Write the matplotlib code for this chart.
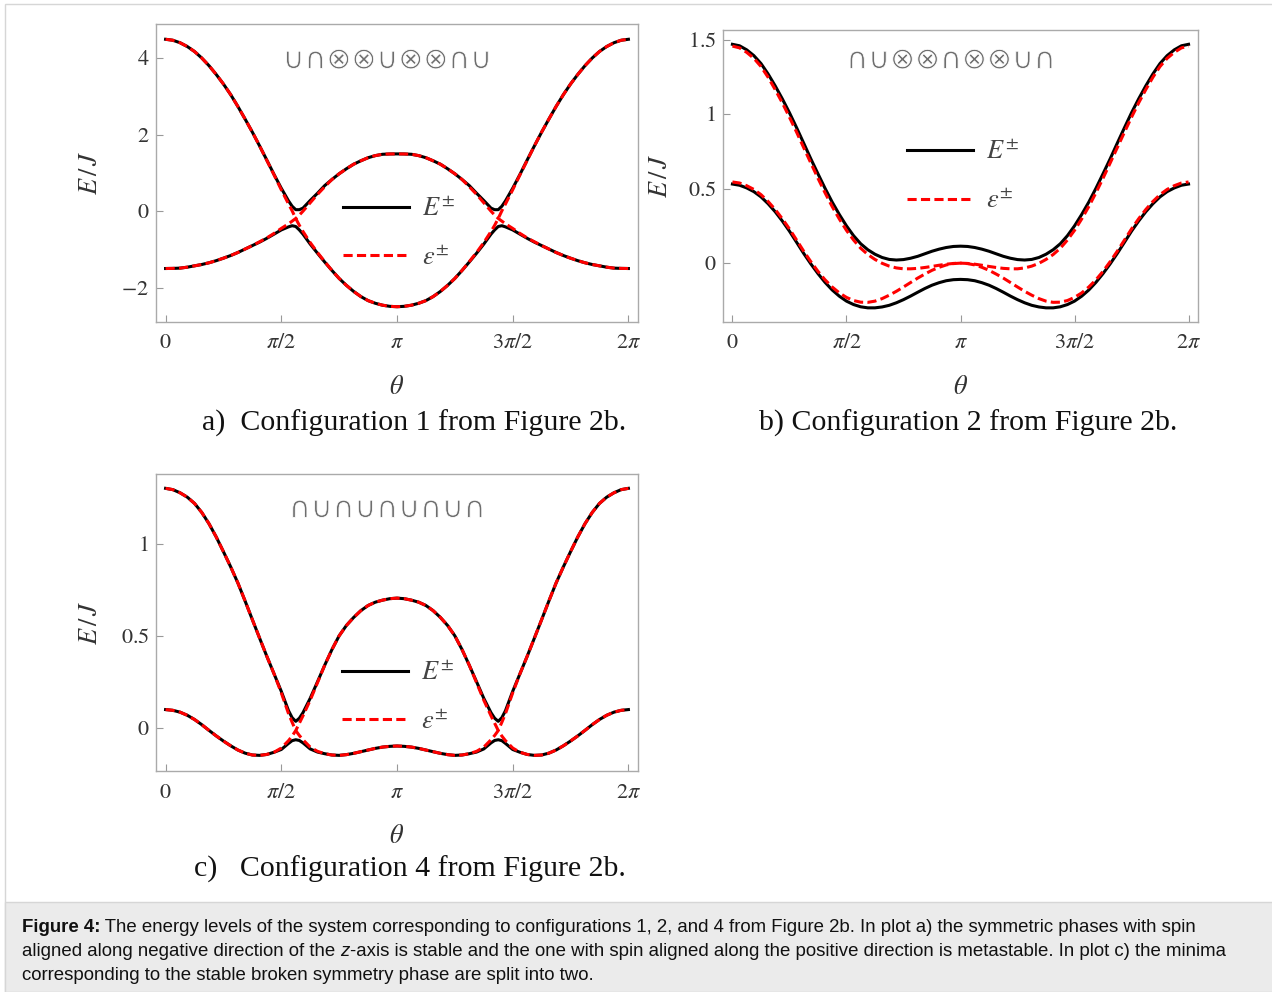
import numpy as np
import matplotlib
matplotlib.use('Agg')
import matplotlib.pyplot as plt
import matplotlib.patheffects as pe
from matplotlib.lines import Line2D
from matplotlib.patches import Rectangle
from matplotlib.transforms import IdentityTransform

plt.rcParams['mathtext.fontset'] = 'stix'
plt.rcParams['font.family'] = ['Liberation Serif', 'DejaVu Sans']

# theta samples (rad), pi/32 steps; a and c get two extra points at each avoided crossing
theta_ac = ([0, 0.098, 0.196, 0.295, 0.393, 0.491, 0.589, 0.687, 0.785, 0.884, 0.982, 1.080, 1.178,
             1.276, 1.374, 1.473, 1.571, 1.669, 1.718, 1.767, 1.816, 1.865, 1.963, 2.062, 2.160, 2.258,
             2.356, 2.454, 2.553, 2.651, 2.749, 2.847, 2.945, 3.043, 3.142]
            + [3.240, 3.338, 3.436, 3.534, 3.632, 3.731, 3.829, 3.927, 4.025, 4.123, 4.222, 4.320, 4.418,
               4.467, 4.516, 4.565, 4.614, 4.712, 4.810, 4.909, 5.007, 5.105, 5.203, 5.301, 5.400, 5.498,
               5.596, 5.694, 5.792, 5.890, 5.988, 6.087, 6.185, 6.283])
theta_b = ([0, 0.098, 0.196, 0.295, 0.393, 0.491, 0.589, 0.687, 0.785, 0.884, 0.982, 1.080, 1.178,
            1.276, 1.374, 1.473, 1.571, 1.669, 1.767, 1.865, 1.963, 2.062, 2.160, 2.258, 2.356, 2.454,
            2.553, 2.651, 2.749, 2.847, 2.945, 3.043, 3.142]
           + [3.240, 3.338, 3.436, 3.534, 3.632, 3.731, 3.829, 3.927, 4.025, 4.123, 4.222, 4.320, 4.418,
              4.516, 4.614, 4.712, 4.810, 4.909, 5.007, 5.105, 5.203, 5.301, 5.400, 5.498, 5.596, 5.694,
              5.792, 5.890, 5.988, 6.087, 6.185, 6.283])

# panel a) configuration 1
Ep_a = ([4.50, 4.475, 4.41, 4.31, 4.18, 4.01, 3.81, 3.58, 3.33, 3.05, 2.74, 2.41, 2.07, 1.71, 1.34, 0.96,
         0.60, 0.27, 0.13, 0.04, 0.04, 0.08, 0.28, 0.47, 0.67, 0.83, 0.98, 1.11, 1.23, 1.32, 1.40, 1.455,
         1.49, 1.498, 1.50]
        + [1.498, 1.49, 1.455, 1.40, 1.32, 1.23, 1.11, 0.98, 0.83, 0.67, 0.47, 0.28, 0.08, 0.04, 0.04,
           0.13, 0.27, 0.60, 0.96, 1.34, 1.71, 2.07, 2.41, 2.74, 3.05, 3.33, 3.58, 3.81, 4.01, 4.18, 4.31,
           4.41, 4.475, 4.50])
Em_a = ([-1.50, -1.497, -1.49, -1.465, -1.43, -1.395, -1.35, -1.295, -1.23, -1.16, -1.08, -0.99, -0.90,
         -0.81, -0.71, -0.60, -0.49, -0.41, -0.38, -0.40, -0.49, -0.60, -0.86, -1.10, -1.33, -1.55, -1.76,
         -1.94, -2.10, -2.235, -2.34, -2.41, -2.46, -2.49, -2.50]
        + [-2.49, -2.46, -2.41, -2.34, -2.235, -2.10, -1.94, -1.76, -1.55, -1.33, -1.10, -0.86, -0.60,
           -0.49, -0.40, -0.38, -0.41, -0.49, -0.60, -0.71, -0.81, -0.90, -0.99, -1.08, -1.16, -1.23,
           -1.295, -1.35, -1.395, -1.43, -1.465, -1.49, -1.497, -1.50])
eps1_a = ([4.50, 4.475, 4.41, 4.31, 4.18, 4.01, 3.81, 3.58, 3.33, 3.05, 2.74, 2.41, 2.07, 1.71, 1.33,
           0.95, 0.56, 0.19, 0.01, -0.19, -0.37, -0.53, -0.82, -1.08, -1.32, -1.55, -1.76, -1.94, -2.10,
           -2.235, -2.34, -2.41, -2.46, -2.49, -2.50]
          + [-2.49, -2.46, -2.41, -2.34, -2.235, -2.10, -1.94, -1.76, -1.55, -1.32, -1.08, -0.82, -0.53,
             -0.37, -0.19, 0.01, 0.19, 0.56, 0.95, 1.33, 1.71, 2.07, 2.41, 2.74, 3.05, 3.33, 3.58, 3.81,
             4.01, 4.18, 4.31, 4.41, 4.475, 4.50])
eps2_a = ([-1.50, -1.497, -1.49, -1.465, -1.43, -1.395, -1.35, -1.295, -1.23, -1.16, -1.08, -0.99, -0.90,
           -0.80, -0.70, -0.58, -0.45, -0.33, -0.26, -0.19, -0.10, 0.00, 0.22, 0.44, 0.64, 0.83, 0.98,
           1.11, 1.23, 1.32, 1.40, 1.455, 1.49, 1.498, 1.50]
          + [1.498, 1.49, 1.455, 1.40, 1.32, 1.23, 1.11, 0.98, 0.83, 0.64, 0.44, 0.22, 0.00, -0.10, -0.19,
             -0.26, -0.33, -0.45, -0.58, -0.70, -0.80, -0.90, -0.99, -1.08, -1.16, -1.23, -1.295, -1.35,
             -1.395, -1.43, -1.465, -1.49, -1.497, -1.50])

# panel b) configuration 2
Ep_b = ([1.469, 1.459, 1.432, 1.393, 1.34, 1.27, 1.19, 1.103, 1.01, 0.909, 0.805, 0.70, 0.60, 0.502,
         0.41, 0.326, 0.25, 0.184, 0.13, 0.09, 0.06, 0.038, 0.025, 0.021, 0.024, 0.033, 0.046, 0.063,
         0.08, 0.094, 0.105, 0.112, 0.114]
        + [0.112, 0.105, 0.094, 0.08, 0.063, 0.046, 0.033, 0.024, 0.021, 0.025, 0.038, 0.06, 0.09, 0.13,
           0.184, 0.25, 0.326, 0.41, 0.502, 0.60, 0.70, 0.805, 0.909, 1.01, 1.103, 1.19, 1.27, 1.34,
           1.393, 1.432, 1.459, 1.469])
Em_b = ([0.531, 0.523, 0.505, 0.480, 0.445, 0.399, 0.345, 0.283, 0.215, 0.140, 0.065, -0.005, -0.07,
         -0.129, -0.18, -0.222, -0.255, -0.278, -0.293, -0.300, -0.30, -0.294, -0.283, -0.266, -0.245,
         -0.221, -0.195, -0.170, -0.148, -0.131, -0.118, -0.111, -0.109]
        + [-0.111, -0.118, -0.131, -0.148, -0.170, -0.195, -0.221, -0.245, -0.266, -0.283, -0.294, -0.30,
           -0.300, -0.293, -0.278, -0.255, -0.222, -0.18, -0.129, -0.07, -0.005, 0.065, 0.140, 0.215,
           0.283, 0.345, 0.399, 0.445, 0.480, 0.505, 0.523, 0.531])
eps1_b = ([1.457, 1.445, 1.415, 1.375, 1.32, 1.248, 1.165, 1.076, 0.98, 0.879, 0.775, 0.672, 0.57, 0.472,
           0.38, 0.296, 0.22, 0.155, 0.10, 0.058, 0.025, -0.001, -0.02, -0.032, -0.038, -0.038, -0.035,
           -0.029, -0.022, -0.014, -0.007, -0.002, 0.0]
          + [-0.002, -0.007, -0.014, -0.022, -0.029, -0.035, -0.038, -0.038, -0.032, -0.02, -0.001, 0.025,
             0.058, 0.10, 0.155, 0.22, 0.296, 0.38, 0.472, 0.57, 0.672, 0.775, 0.879, 0.98, 1.076, 1.165,
             1.248, 1.32, 1.375, 1.415, 1.445, 1.457])
eps2_b = ([0.545, 0.538, 0.52, 0.495, 0.46, 0.414, 0.36, 0.298, 0.23, 0.155, 0.08, 0.010, -0.055, -0.112,
           -0.16, -0.200, -0.23, -0.251, -0.262, -0.263, -0.255, -0.238, -0.215, -0.189, -0.16, -0.130,
           -0.10, -0.073, -0.048, -0.028, -0.012, -0.003, 0.0]
          + [-0.003, -0.012, -0.028, -0.048, -0.073, -0.10, -0.130, -0.16, -0.189, -0.215, -0.238, -0.255,
             -0.263, -0.262, -0.251, -0.23, -0.200, -0.16, -0.112, -0.055, 0.010, 0.08, 0.155, 0.23, 0.298,
             0.36, 0.414, 0.46, 0.495, 0.52, 0.538, 0.545])

# panel c) configuration 4
Ep_c = ([1.302, 1.295, 1.278, 1.254, 1.22, 1.171, 1.11, 1.038, 0.958, 0.875, 0.787, 0.689, 0.588, 0.488,
         0.389, 0.293, 0.198, 0.093, 0.055, 0.035, 0.052, 0.082, 0.16, 0.25, 0.34, 0.425, 0.50, 0.556,
         0.60, 0.637, 0.665, 0.683, 0.694, 0.702, 0.705]
        + [0.702, 0.694, 0.683, 0.665, 0.637, 0.60, 0.556, 0.50, 0.425, 0.34, 0.25, 0.16, 0.082, 0.052,
           0.035, 0.055, 0.093, 0.198, 0.293, 0.389, 0.488, 0.588, 0.689, 0.787, 0.875, 0.958, 1.038,
           1.11, 1.171, 1.22, 1.254, 1.278, 1.295, 1.302])
Em_c = ([0.099, 0.095, 0.085, 0.068, 0.045, 0.017, -0.014, -0.044, -0.072, -0.098, -0.121, -0.138, -0.148,
         -0.150, -0.145, -0.133, -0.118, -0.085, -0.07, -0.065, -0.069, -0.082, -0.115, -0.132, -0.141,
         -0.148, -0.15, -0.146, -0.139, -0.130, -0.121, -0.112, -0.105, -0.101, -0.099]
        + [-0.101, -0.105, -0.112, -0.121, -0.130, -0.139, -0.146, -0.15, -0.148, -0.141, -0.132, -0.115,
           -0.082, -0.069, -0.065, -0.07, -0.085, -0.118, -0.133, -0.145, -0.150, -0.148, -0.138, -0.121,
           -0.098, -0.072, -0.044, -0.014, 0.017, 0.045, 0.068, 0.085, 0.095, 0.099])
eps1_c = ([1.302, 1.295, 1.278, 1.254, 1.22, 1.171, 1.11, 1.038, 0.958, 0.875, 0.787, 0.689, 0.588, 0.488,
           0.389, 0.293, 0.19, 0.077, 0.03, -0.015, -0.042, -0.065, -0.105, -0.128, -0.141, -0.148, -0.15,
           -0.146, -0.139, -0.130, -0.121, -0.112, -0.105, -0.101, -0.099]
          + [-0.101, -0.105, -0.112, -0.121, -0.130, -0.139, -0.146, -0.15, -0.148, -0.141, -0.128, -0.105,
             -0.065, -0.042, -0.015, 0.03, 0.077, 0.19, 0.293, 0.389, 0.488, 0.588, 0.689, 0.787, 0.875,
             0.958, 1.038, 1.11, 1.171, 1.22, 1.254, 1.278, 1.295, 1.302])
eps2_c = ([0.099, 0.095, 0.085, 0.068, 0.045, 0.017, -0.014, -0.044, -0.072, -0.098, -0.121, -0.138,
           -0.148, -0.150, -0.145, -0.133, -0.11, -0.07, -0.045, -0.015, 0.025, 0.065, 0.15, 0.245, 0.34,
           0.425, 0.50, 0.556, 0.60, 0.637, 0.665, 0.683, 0.694, 0.702, 0.705]
          + [0.702, 0.694, 0.683, 0.665, 0.637, 0.60, 0.556, 0.50, 0.425, 0.34, 0.245, 0.15, 0.065, 0.025,
             -0.015, -0.045, -0.07, -0.11, -0.133, -0.145, -0.150, -0.148, -0.138, -0.121, -0.098, -0.072,
             -0.044, -0.014, 0.017, 0.045, 0.068, 0.085, 0.095, 0.099])

xtick_vals = [0, np.pi / 2, np.pi, 3 * np.pi / 2, 2 * np.pi]
xtick_labels = [r'$0$', r'$\pi/2$', r'$\pi$', r'$3\pi/2$', r'$2\pi$']

panels = [
    dict(rect=[156, 24, 638, 322], theta=theta_ac, Ep=Ep_a, Em=Em_a, e1=eps1_a, e2=eps2_a,
         ylim=(-2.9, 4.9), yticks=[-2, 0, 2, 4], ylabels=[r'$-2$', r'$0$', r'$2$', r'$4$'],
         config='∪∩⊗⊗∪⊗⊗∩∪', config_y=60, leg=(0.388, 0.297), ylab_x=-54,
         caption='a)  Configuration 1 from Figure 2b.', cap_xy=(414, 423)),
    dict(rect=[723, 30, 1198, 322], theta=theta_b, Ep=Ep_b, Em=Em_b, e1=eps1_b, e2=eps2_b,
         ylim=(-0.395, 1.565), yticks=[0, 0.5, 1, 1.5], ylabels=[r'$0$', r'$0.5$', r'$1$', r'$1.5$'],
         config='∩∪⊗⊗∩⊗⊗∪∩', config_y=60, leg=(0.387, 0.497), ylab_x=-51,
         caption='b) Configuration 2 from Figure 2b.', cap_xy=(968, 423)),
    dict(rect=[156, 474, 638, 771], theta=theta_ac, Ep=Ep_c, Em=Em_c, e1=eps1_c, e2=eps2_c,
         ylim=(-0.235, 1.38), yticks=[0, 0.5, 1], ylabels=[r'$0$', r'$0.5$', r'$1$'],
         config='∩∪∩∪∩∪∩∪∩', config_y=509, leg=(0.386, 0.247), ylab_x=-54,
         caption='c)   Configuration 4 from Figure 2b.', cap_xy=(410, 869)),
]

W, H = 1272, 992
fig = plt.figure(figsize=(W / 100, H / 100), dpi=100)
fig.patch.set_facecolor('white')

# page frame and caption box
fig.add_artist(Rectangle((5 / W, 0), 1.2, (H - 4) / H, transform=fig.transFigure,
                         facecolor='none', edgecolor='#d6d6d6', lw=1))
fig.add_artist(Rectangle((5 / W, 0), 1.2, (H - 902) / H, transform=fig.transFigure,
                         facecolor='#ebebeb', edgecolor='#d6d6d6', lw=1))

red_dash = (0, (3.0, 1.4))
grey_txt = '#333333'
# thin the glyph strokes a little (Mathematica draws these very light)
thin = [pe.Stroke(linewidth=0.6, foreground='white')]

for p in panels:
    x0, y0, x1, y1 = p['rect']
    w, h = (x1 - x0), (y1 - y0)
    ax = fig.add_axes([x0 / W, 1 - y1 / H, w / W, h / H])
    ax.plot(p['theta'], p['Ep'], color='black', lw=2.2, zorder=2, solid_joinstyle='round')
    ax.plot(p['theta'], p['Em'], color='black', lw=2.2, zorder=2, solid_joinstyle='round')
    ax.plot(p['theta'], p['e1'], color='red', lw=2.2, ls=red_dash, zorder=3)
    ax.plot(p['theta'], p['e2'], color='red', lw=2.2, ls=red_dash, zorder=3)

    ax.set_xlim(-0.13, 2 * np.pi + 0.13)
    ax.set_ylim(*p['ylim'])
    ax.set_xticks(xtick_vals)
    ax.set_xticklabels(xtick_labels)
    ax.set_yticks(p['yticks'])
    ax.set_yticklabels(p['ylabels'])
    ax.tick_params(direction='in', length=5, width=0.8, color='#999999', labelsize=16,
                   labelcolor=grey_txt)
    ax.tick_params(axis='x', pad=9)
    ax.tick_params(axis='y', pad=5)
    for s in ax.spines.values():
        s.set_color('#aaaaaa')
        s.set_linewidth(1)

    ax.set_ylabel(r'$E\,/\,J$', fontsize=19, color=grey_txt)
    ax.yaxis.set_label_coords(p['ylab_x'] / w, 0.5)
    ax.set_xlabel(r'$\theta$', fontsize=19, color=grey_txt)
    ax.xaxis.set_label_coords(0.5, -54 / h)

    ax.text(0.48, 1 - (p['config_y'] - y0) / h, p['config'], transform=ax.transAxes,
            ha='center', va='center', fontsize=21.5, color='#6e6e6e',
            family=['DejaVu Sans', 'Noto Sans'], path_effects=thin)

    handles = [Line2D([], [], color='black', lw=2.2), Line2D([], [], color='red', lw=2.2, ls=red_dash)]
    ax.legend(handles, [r'$E^{\pm}$', r'$\varepsilon^{\pm}$'], loc='center left',
              bbox_to_anchor=p['leg'], frameon=False, fontsize=19, handlelength=2.5,
              handletextpad=0.5, labelspacing=0.95, borderpad=0, borderaxespad=0,
              labelcolor='#444444')

    cx, cy = p['cap_xy']
    fig.text(cx / W, 1 - cy / H, p['caption'], ha='center', va='center', fontsize=21.5,
             color='#111111', family='Liberation Serif')

# caption text, drawn run by run so the bold and italic parts line up
renderer = fig.canvas.get_renderer()


def put_runs(x, y, runs):
    for text, style in runs:
        t = fig.text(x, y, text, transform=IdentityTransform(), ha='left', va='baseline',
                     fontsize=13.4, color='#111111', family='Liberation Sans', **style)
        x = t.get_window_extent(renderer).x1


caption_lines = [
    [('Figure 4:', dict(weight='bold')),
     (' The energy levels of the system corresponding to configurations 1, 2, and 4 from Figure 2b. '
      'In plot a) the symmetric phases with spin', {})],
    [('aligned along negative direction of the ', {}), ('z', dict(style='italic')),
     ('-axis is stable and the one with spin aligned along the positive direction is metastable. '
      'In plot c) the minima', {})],
    [('corresponding to the stable broken symmetry phase are split into two.', {})],
]
for i, runs in enumerate(caption_lines):
    put_runs(22, H - (932 + 24 * i), runs)

fig.savefig('out.png', dpi=100, facecolor='white')
